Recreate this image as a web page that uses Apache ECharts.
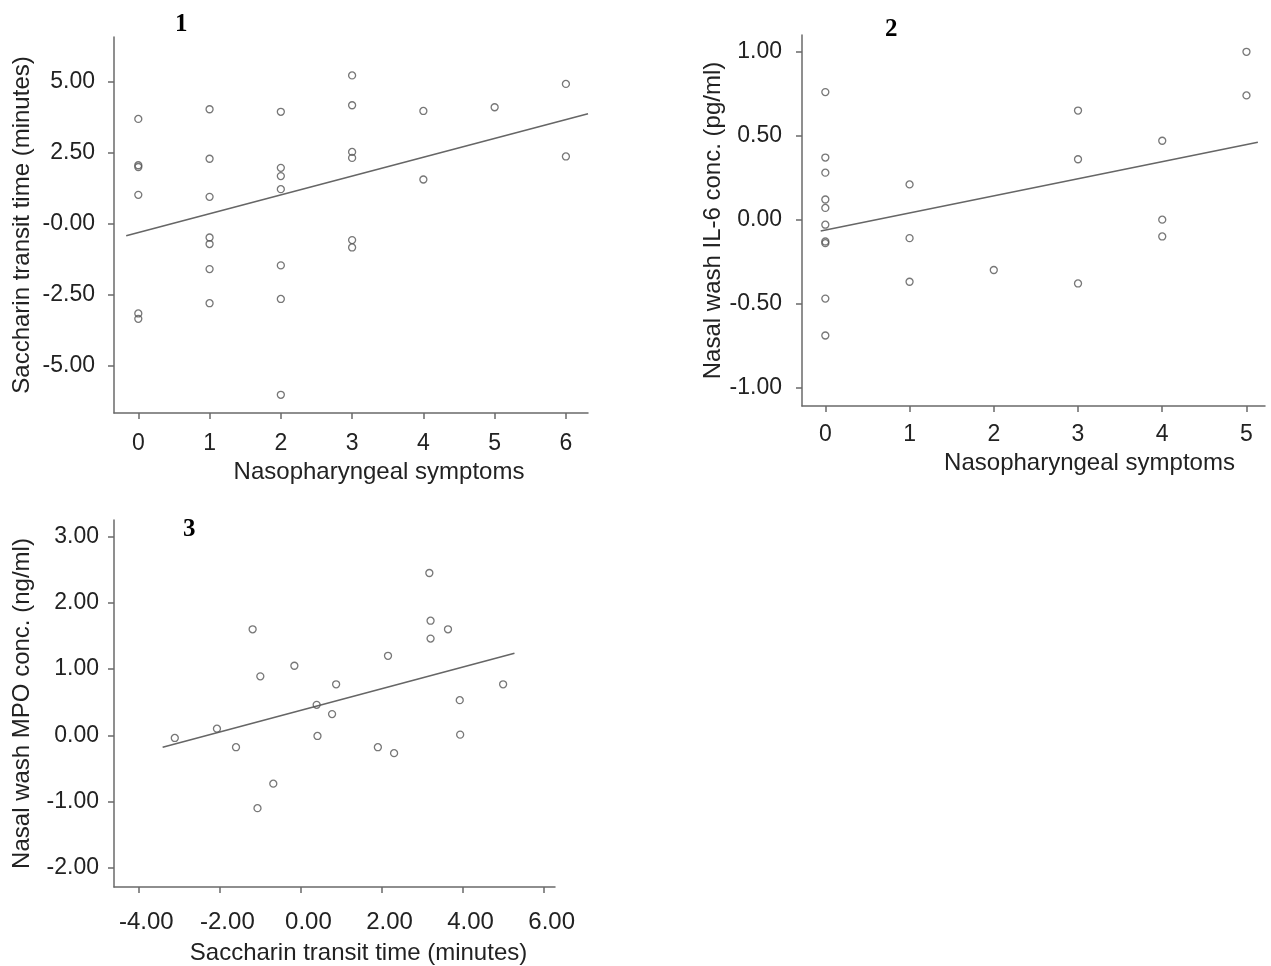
<!DOCTYPE html>
<html>
<head>
<meta charset="utf-8">
<script src="https://cdn.jsdelivr.net/npm/echarts@6/dist/echarts.min.js"></script>
<style>
html,body{margin:0;padding:0;background:#fff;}
#chart{width:1271px;height:966px;}
</style>
</head>
<body>
<div id="chart"></div>
<script>
// ---- Panel 1: Nasopharyngeal symptoms vs Saccharin transit time ----
const p1Symptoms = [0,0,0,0,0,0, 1,1,1,1,1,1,1, 2,2,2,2,2,2,2, 3,3,3,3,3,3, 4,4, 5, 6,6];
const p1Transit  = [3.69,2.06,2.00,1.02,-3.15,-3.34,
                    4.03,2.29,0.95,-0.48,-0.71,-1.59,-2.79,
                    3.94,1.97,1.68,1.22,-1.46,-2.64,-6.01,
                    5.22,4.17,2.53,2.32,-0.57,-0.83,
                    3.97,1.56,
                    4.10,
                    4.92,2.37];
const p1FitX = [-0.17, 6.31];
const p1FitY = [-0.42, 3.87];
const p1XTicks = [0,1,2,3,4,5,6];
const p1YTicks = [-5,-2.5,0,2.5,5];

// ---- Panel 2: Nasopharyngeal symptoms vs Nasal wash IL-6 ----
const p2Symptoms = [0,0,0,0,0,0,0,0,0,0, 1,1,1, 2, 3,3,3, 4,4,4, 5,5];
const p2IL6      = [0.76,0.37,0.28,0.12,0.07,-0.03,-0.13,-0.14,-0.47,-0.69,
                    0.21,-0.11,-0.37,
                    -0.30,
                    0.65,0.36,-0.38,
                    0.47,0.00,-0.10,
                    1.00,0.74];
const p2FitX = [-0.055, 5.135];
const p2FitY = [-0.068, 0.461];
const p2XTicks = [0,1,2,3,4,5];
const p2YTicks = [-1,-0.5,0,0.5,1];

// ---- Panel 3: Saccharin transit time vs Nasal wash MPO ----
const p3Transit = [-3.10,-2.06,-1.59,-1.18,-1.06,-0.99,-0.67,-0.15,0.40,0.42,0.78,0.88,1.91,2.16,2.31,3.18,3.21,3.21,3.64,3.93,3.94,5.00];
const p3MPO     = [-0.04,0.10,-0.18,1.60,-1.10,0.89,-0.73,1.05,0.46,-0.01,0.32,0.77,-0.18,1.20,-0.27,2.45,1.73,1.46,1.60,0.53,0.01,0.77];
const p3FitX = [-3.40, 5.28];
const p3FitY = [-0.18, 1.24];
const p3XTicks = [-4,-2,0,2,4,6];
const p3YTicks = [-2,-1,0,1,2,3];

const panelTitles = ['1','2','3'];
const xNames = ['Nasopharyngeal symptoms','Nasopharyngeal symptoms','Saccharin transit time (minutes)'];
const yNames = ['Saccharin transit time (minutes)','Nasal wash IL-6 conc. (pg/ml)','Nasal wash MPO conc. (ng/ml)'];

function pairs(xs, ys){ return xs.map((x,i)=>[x, ys[i]]); }

const AXIS_COLOR = '#6a6a6a';
const TEXT_COLOR = '#222';
const FONT = '"Liberation Sans", Arial, sans-serif';

function xAxis(idx, min, max, ticks, fmt, nameGap, nameShift, labelMargin, labelSize, labelShift){
  return {
    type:'value', gridIndex:idx, min:min, max:max,
    name:xNames[idx], nameLocation:'middle', nameGap:nameGap,
    nameTextStyle:{color:TEXT_COLOR, fontSize:24, fontFamily:FONT, padding:[0,0,0,nameShift*2]},
    axisLine:{show:true, onZero:false, lineStyle:{color:AXIS_COLOR, width:1.5}},
    axisTick:{show:true, length:6, customValues:ticks, lineStyle:{color:AXIS_COLOR, width:1.5}},
    axisLabel:{customValues:ticks, formatter:fmt, color:TEXT_COLOR, fontSize:labelSize, fontFamily:FONT,
               margin:labelMargin, padding:[0,0,0,labelShift*2]},
    splitLine:{show:false}
  };
}
function yAxis(idx, min, max, ticks, fmt, nameGap, labelMargin){
  return {
    type:'value', gridIndex:idx, min:min, max:max,
    name:yNames[idx], nameLocation:'middle', nameGap:nameGap,
    nameTextStyle:{color:TEXT_COLOR, fontSize:24, fontFamily:FONT},
    axisLine:{show:true, onZero:false, lineStyle:{color:AXIS_COLOR, width:1.5}},
    axisTick:{show:true, length:6, customValues:ticks, lineStyle:{color:AXIS_COLOR, width:1.5}},
    axisLabel:{customValues:ticks, formatter:fmt, color:TEXT_COLOR, fontSize:23, fontFamily:FONT, margin:labelMargin},
    splitLine:{show:false}
  };
}
function scatter(idx, data){
  return {
    type:'scatter', xAxisIndex:idx, yAxisIndex:idx, data:data,
    symbol:'circle', symbolSize:7,
    itemStyle:{color:'rgba(0,0,0,0)', borderColor:'#555', borderWidth:1.3},
    silent:true, z:3
  };
}
function fitLine(idx, data){
  return {
    type:'line', xAxisIndex:idx, yAxisIndex:idx, data:data,
    showSymbol:false, symbol:'none',
    lineStyle:{color:'#666', width:1.6},
    silent:true, z:2
  };
}

const int = v => String(Math.round(v));
const dec1 = v => (Math.abs(v) < 1e-9 ? '-0.00' : v.toFixed(2));
const dec = v => (Math.abs(v) < 1e-9 ? '0.00' : v.toFixed(2));

const option = {
  animation:false,
  backgroundColor:'#fff',
  title:[
    {text:panelTitles[0], left:170, top:7, textStyle:{fontFamily:'"Liberation Serif", serif', fontWeight:'bold', fontSize:25, color:'#000'}},
    {text:panelTitles[1], left:880, top:12, textStyle:{fontFamily:'"Liberation Serif", serif', fontWeight:'bold', fontSize:25, color:'#000'}},
    {text:panelTitles[2], left:178, top:512, textStyle:{fontFamily:'"Liberation Serif", serif', fontWeight:'bold', fontSize:25, color:'#000'}}
  ],
  grid:[
    {left:114, top:37, width:474, height:376},
    {left:802, top:35, width:463, height:371},
    {left:114, top:520, width:441, height:368}
  ],
  xAxis:[
    xAxis(0, -0.341, 6.31, p1XTicks, int, 47, 28, 19, 23, 0),
    xAxis(1, -0.277, 5.22, p2XTicks, int, 45, 56, 17, 23, 0),
    xAxis(2, -4.60, 6.28, p3XTicks, dec, 54, 24, 23, 24, 8)
  ],
  yAxis:[
    yAxis(0, -6.65, 6.57, p1YTicks, dec1, 80, 19),
    yAxis(1, -1.11, 1.10, p2YTicks, dec, 73, 20),
    yAxis(2, -2.29, 3.25, p3YTicks, dec, 80, 15)
  ],
  series:[
    fitLine(0, pairs(p1FitX, p1FitY)),
    scatter(0, pairs(p1Symptoms, p1Transit)),
    fitLine(1, pairs(p2FitX, p2FitY)),
    scatter(1, pairs(p2Symptoms, p2IL6)),
    fitLine(2, pairs(p3FitX, p3FitY)),
    scatter(2, pairs(p3Transit, p3MPO))
  ]
};

const chart = echarts.init(document.getElementById('chart'), null, {renderer:'canvas'});
chart.setOption(option);
</script>
</body>
</html>
